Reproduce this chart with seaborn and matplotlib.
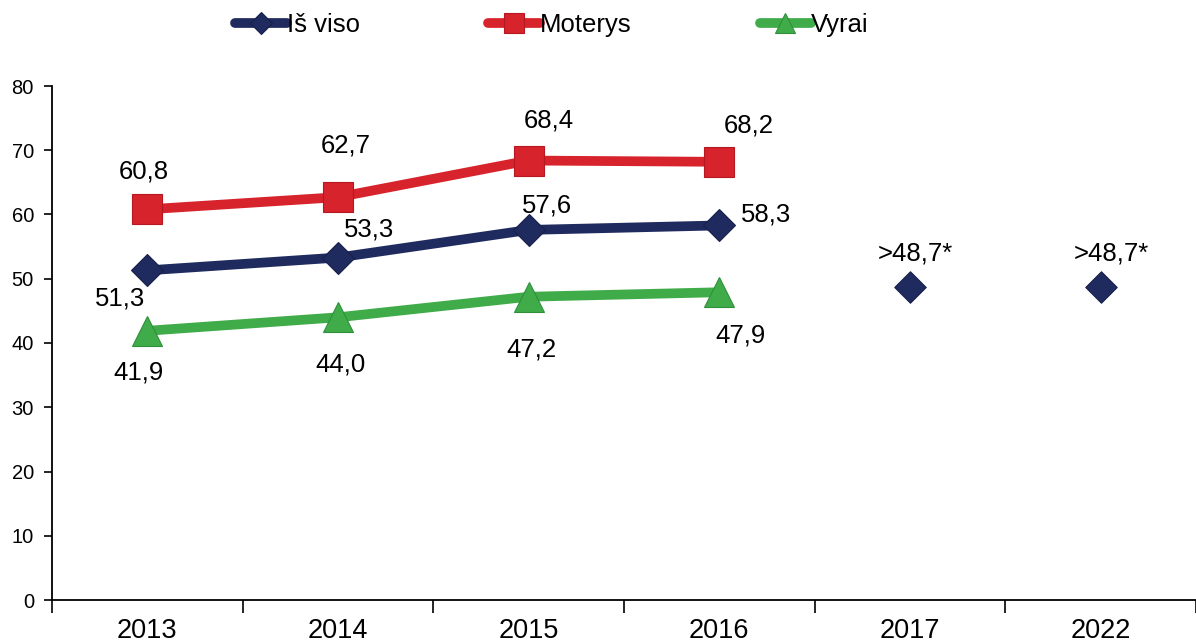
import numpy as np
import pandas as pd
import matplotlib
matplotlib.use("Agg")
import matplotlib.pyplot as plt
import seaborn as sns
from matplotlib.lines import Line2D

sns.set_theme(style="white")
plt.rcParams['font.family'] = ['Liberation Sans', 'DejaVu Sans']
plt.rcParams['text.color'] = 'black'
plt.rcParams['xtick.color'] = 'black'
plt.rcParams['ytick.color'] = 'black'

# Data
years = ["2013", "2014", "2015", "2016", "2017", "2022"]
total = [51.3, 53.3, 57.6, 58.3]
women = [60.8, 62.7, 68.4, 68.2]
men = [41.9, 44.0, 47.2, 47.9]
target_years = ["2017", "2022"]
target = [48.7, 48.7]
target_labels = [">48,7*", ">48,7*"]
series_names = ["Iš viso", "Moterys", "Vyrai"]

navy = "#1f2a5e"
red = "#d7232b"
green = "#3fab49"

# Label offsets from each marker, in pixels (x right, y down), text centre
women_off = [(-4, -40), (8, -54), (20, -42), (29, -38)]
total_off = [(-27, 26), (31, -30), (18, -26), (47, -13)]
men_off = [(-9, 40), (3, 45), (3, 51), (21, 41)]
target_off = [(5, -36), (11, -36)]

pos = {y: i for i, y in enumerate(years)}

fig = plt.figure(figsize=(11.96, 6.44), dpi=100)
ax = fig.add_axes([52 / 1196, 44 / 644, 1144 / 1196, 514 / 644])

def fmt(v):
    return f"{v:.1f}".replace(".", ",")

specs = [
    (series_names[1], women, red, "#b51820", "s", 21.5),
    (series_names[0], total, navy, "#18204a", "D", 16),
    (series_names[2], men, green, "#2f8f3a", "^", 21.5),
]
handles = {}
legend_ms = {"s": 15, "D": 11, "^": 14}
for name, vals, col, edge, mk, ms in specs:
    df = pd.DataFrame({"x": [pos[y] for y in years[:len(vals)]], "y": vals})
    sns.lineplot(data=df, x="x", y="y", ax=ax, color=col, lw=7, marker=mk,
                 markersize=ms, markeredgecolor=edge, markeredgewidth=0.8,
                 solid_capstyle="round", zorder=3)
    handles[name] = Line2D([], [], color=col, lw=7, marker=mk, markersize=legend_ms[mk],
                           markeredgecolor=edge, markeredgewidth=0.8,
                           solid_capstyle="round")

tdf = pd.DataFrame({"x": [pos[y] for y in target_years], "y": target})
sns.scatterplot(data=tdf, x="x", y="y", ax=ax, marker="D", s=16 ** 2,
                color=navy, edgecolor="#18204a", linewidth=0.8, zorder=3)

fs = 18.5
PX = 0.72  # points per pixel at 100 dpi
CAP = 9    # half digit height in pixels


def label(x, v, text, off):
    dx, dy = off
    ax.annotate(text, (x, v), xytext=(dx * PX, -(dy + CAP) * PX),
                textcoords="offset points", ha="center", va="baseline",
                fontsize=fs, color="black", zorder=5)


for i, v in enumerate(women):
    label(i, v, fmt(v), women_off[i])
for i, v in enumerate(total):
    label(i, v, fmt(v), total_off[i])
for i, v in enumerate(men):
    label(i, v, fmt(v), men_off[i])
for k, (y, v, lab) in enumerate(zip(target_years, target, target_labels)):
    label(pos[y], v, lab, target_off[k])

ax.set_xlim(-0.5, 5.5)
ax.set_ylim(0, 80)
ax.set_yticks(np.arange(0, 81, 10))
ax.set_xticks(np.arange(-0.5, 5.6, 1.0))
ax.set_xticklabels([])
ax.set_xticks(np.arange(0, 6), minor=True)
ax.set_xticklabels(years, minor=True)
ax.tick_params(axis="x", which="major", direction="out", length=9, width=1.2,
               color="black", bottom=True)
ax.tick_params(axis="x", which="minor", length=0, labelsize=19.5, pad=13,
               labelcolor="black")
ax.tick_params(axis="y", direction="out", length=6, width=1.2, color="black",
               left=True, labelsize=14.5, pad=7, labelcolor="black")
ax.set_xlabel("")
ax.set_ylabel("")
for s in ["top", "right"]:
    ax.spines[s].set_visible(False)
for s in ["left", "bottom"]:
    ax.spines[s].set_color("black")
    ax.spines[s].set_linewidth(1.3)
ax.grid(False)

fig.legend([handles[n] for n in series_names], series_names, loc="center",
           bbox_to_anchor=(552 / 1196, 1 - 25 / 644), ncol=3, frameon=False,
           fontsize=18.5, handlelength=2.0, handletextpad=0.0,
           columnspacing=5.0, borderpad=0.0)

fig.savefig("out.png", dpi=100)
